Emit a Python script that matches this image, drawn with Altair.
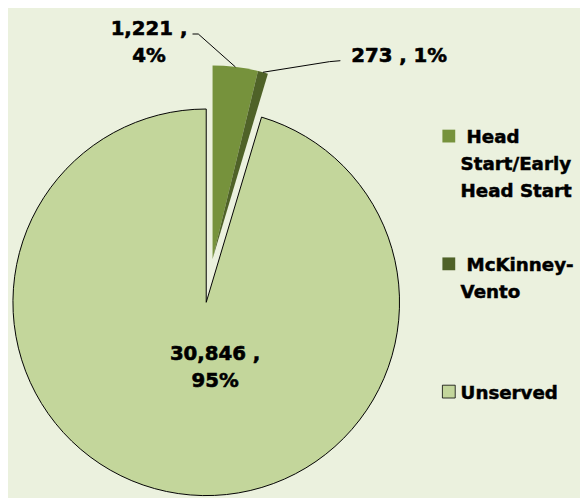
import math
import altair as alt
import pandas as pd

# ---------------- data ----------------
CATEGORIES = ["Head Start/Early Head Start", "McKinney-Vento", "Unserved"]
VALUES = [1221, 273, 30846]
LEGEND_FIRST = ["Head", "McKinney-", "Unserved"]
LEGEND_REST = ["Start/Early|Head Start", "Vento", ""]
LEGEND_INDENT = [True, True, False]
LABEL_WRAP = [True, False, True]

# ---------------- style ----------------
COLORS = ["#76923C", "#4F6228", "#C3D69B"]
BG = "#EBF1DE"
W, H = 580, 490          # chart size (px)
R = 196                  # pie radius (px)
CX, CY = 201, 295        # pie centre (px, from top-left of chart)
EXPLODE = [0.227, 0.227, 0.0]   # explosion (fraction of radius)
FONT = "DejaVu Sans"
FS = 20
LEG_FS = 18.5
LH = 27.5
TXT_STROKE = 0.6
INDENT_PX = 6
# label anchors in pie-radius units (x right, y up from pie centre)
LABEL_POS = [(-0.296, 1.383, "center"), (0.750, 1.245, "left"), (0.046, -0.296, "center")]
# leader line elbow / end points (pie-radius units)
LEADER = [[(-0.041, 1.388), (-0.071, 1.388)], [(0.638, 1.245), (0.694, 1.250)], None]
# legend layout (pie-radius units)
LEG_SYM_X = 1.255
LEG_TXT_X = 1.316
LEG_Y0 = 0.860
LEG_STEP = 0.6610

# ---------------- derived ----------------
total = sum(VALUES)
cum = [0]
for v in VALUES:
    cum.append(cum[-1] + v)

exploded = [i for i, e in enumerate(EXPLODE) if e > 0]
g0 = cum[min(exploded)] / total
g1 = cum[max(exploded) + 1] / total
gmid = (g0 + g1) / 2 * 2 * math.pi

rows = []
for i, (c, v) in enumerate(zip(CATEGORIES, VALUES)):
    cx = EXPLODE[i] * math.sin(gmid)
    cy = EXPLODE[i] * math.cos(gmid)
    mid = (cum[i] + cum[i + 1]) / 2 / total * 2 * math.pi
    pct = f"{round(v / total * 100)}%"
    sep = "|" if LABEL_WRAP[i] else " "
    gy = LEG_Y0 - i * LEG_STEP
    rows.append(dict(idx=i, category=c, value=v, t0=cum[i], t1=cum[i + 1],
                     cx=cx, cy=cy, ax=cx + math.sin(mid), ay=cy + math.cos(mid),
                     label=f"{v:,} ,{sep}{pct}",
                     lx=LABEL_POS[i][0], ly=LABEL_POS[i][1], align=LABEL_POS[i][2],
                     first=LEGEND_FIRST[i], rest=LEGEND_REST[i],
                     gx=LEG_SYM_X,
                     gtx1=LEG_TXT_X + (INDENT_PX / R if LEGEND_INDENT[i] else 0),
                     gtx=LEG_TXT_X, gy=gy, gy2=gy - LH / R))
df = pd.DataFrame(rows)

lines = []
for r in rows:
    i = r["idx"]
    if LEADER[i] is None:
        continue
    pts = [(r["ax"], r["ay"])] + LEADER[i]
    for k, (x, y) in enumerate(pts):
        lines.append(dict(line=i, k=k, x=x, y=y))
df_lines = pd.DataFrame(lines)

xs = alt.Scale(domain=[-CX / R, (W - CX) / R], nice=False, zero=False)
ys = alt.Scale(domain=[-(H - CY) / R, CY / R], nice=False, zero=False)
color = alt.Color("category:N", scale=alt.Scale(domain=CATEGORIES, range=COLORS), legend=None)
outline = alt.condition("datum.category === 'Unserved'", alt.value(1), alt.value(0))

base = alt.Chart(df)

pie = base.mark_arc(radius=R, stroke="#000000").encode(
    x=alt.X("cx:Q", scale=xs, axis=None),
    y=alt.Y("cy:Q", scale=ys, axis=None),
    theta=alt.Theta("t0:Q", scale=alt.Scale(domain=[0, total], range=[0, 2 * math.pi])),
    theta2="t1:Q",
    color=color,
    strokeWidth=outline,
)

leaders = alt.Chart(df_lines).mark_line(color="#000000", strokeWidth=1).encode(
    x=alt.X("x:Q", scale=xs, axis=None),
    y=alt.Y("y:Q", scale=ys, axis=None),
    detail="line:N",
    order="k:Q",
)

def label_layer(align):
    return base.transform_filter(f"datum.align === '{align}'").mark_text(
        font=FONT, fontSize=FS, fontWeight="bold", color="#000000",
        stroke="#000000", strokeWidth=TXT_STROKE,
        align=align, baseline="alphabetic", lineBreak="|", lineHeight=LH,
    ).encode(
        x=alt.X("lx:Q", scale=xs, axis=None),
        y=alt.Y("ly:Q", scale=ys, axis=None),
        text="label:N",
    )

leg_sym = base.mark_square(size=169, opacity=1, stroke="#000000", strokeOpacity=0.8).encode(
    x=alt.X("gx:Q", scale=xs, axis=None),
    y=alt.Y("gy:Q", scale=ys, axis=None),
    color=color,
    fill=alt.Fill("category:N", scale=alt.Scale(domain=CATEGORIES, range=COLORS), legend=None),
    strokeWidth=outline,
)

leg_style = dict(font=FONT, fontSize=LEG_FS, fontWeight="bold", color="#000000",
                 stroke="#000000", strokeWidth=0.5, align="left", baseline="alphabetic",
                 lineBreak="|", lineHeight=LH, dy=7)

leg_txt1 = base.mark_text(**leg_style).encode(
    x=alt.X("gtx1:Q", scale=xs, axis=None),
    y=alt.Y("gy:Q", scale=ys, axis=None),
    text="first:N",
)
leg_txt2 = base.transform_filter("datum.rest !== ''").mark_text(**leg_style).encode(
    x=alt.X("gtx:Q", scale=xs, axis=None),
    y=alt.Y("gy2:Q", scale=ys, axis=None),
    text="rest:N",
)

chart = alt.layer(pie, leaders, label_layer("center"), label_layer("left"),
                  leg_sym, leg_txt1, leg_txt2).properties(
    width=W, height=H, padding=0, background=BG,
    autosize=alt.AutoSizeParams(type="none"),
).configure_view(stroke=None)

chart.save("out.html", embed_options={"renderer": "svg", "actions": False})
